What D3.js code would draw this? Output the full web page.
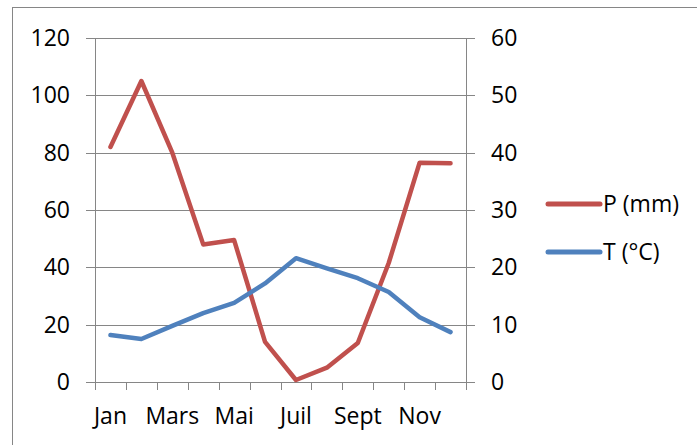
<!DOCTYPE html>
<html>
<head>
<meta charset="utf-8">
<script src="https://cdn.jsdelivr.net/npm/d3@7"></script>
<style>
  body { margin: 0; background: #fff; }
  svg text { font-family: "Open Sans", sans-serif; font-size: 23px; fill: #000; }
</style>
</head>
<body>
<svg id="chart" width="697" height="445"></svg>
<script>
// Monthly precipitation (left axis) and temperature (right axis)
const months = ['Jan', 'Fev', 'Mars', 'Avr', 'Mai', 'Juin', 'Juil', 'Aout', 'Sept', 'Oct', 'Nov', 'Dec'];
const shownMonths = ['Jan', 'Mars', 'Mai', 'Juil', 'Sept', 'Nov'];
const precip = [82, 105, 80, 48, 49.5, 14, 0.7, 5, 13.6, 41.5, 76.5, 76.3];
const temp = [8.2, 7.5, 9.8, 12, 13.8, 17.2, 21.6, 19.8, 18.1, 15.7, 11.3, 8.7];
const leftTicks = [0, 20, 40, 60, 80, 100, 120];
const rightTicks = [0, 10, 20, 30, 40, 50, 60];
const seriesNames = ['P (mm)', 'T (°C)'];

const RED = '#C0504D', BLUE = '#4F81BD', GRID = '#868686';
const M = { left: 95, right: 466, top: 38, bottom: 382 };

const svg = d3.select('#chart');

// outer chart frame (runs off the right and bottom edges)
svg.append('rect')
  .attr('x', 12.5).attr('y', 7.5)
  .attr('width', 720).attr('height', 460)
  .attr('fill', 'none')
  .attr('stroke', GRID)
  .attr('stroke-width', 1);

const x = d3.scaleBand().domain(months).range([M.left, M.right]);
const yL = d3.scaleLinear().domain([0, 120]).range([M.bottom, M.top]);
const yR = d3.scaleLinear().domain([0, 60]).range([M.bottom, M.top]);

// Gridlines + tick stubs on both sides
svg.append('g')
  .selectAll('line')
  .data(leftTicks)
  .join('line')
  .attr('x1', M.left - 9).attr('x2', M.right + 9)
  .attr('y1', d => Math.round(yL(d)) + 0.5).attr('y2', d => Math.round(yL(d)) + 0.5)
  .attr('stroke', GRID)
  .attr('stroke-width', 1);

// Vertical axes
[M.left, M.right].forEach(px => {
  svg.append('line')
    .attr('x1', px + 0.5).attr('x2', px + 0.5)
    .attr('y1', M.top).attr('y2', M.bottom + 8)
    .attr('stroke', GRID);
});

// X ticks at category boundaries
const bounds = months.map(m => x(m)).concat([x(months[11]) + x.bandwidth()]);
svg.append('g')
  .selectAll('line')
  .data(bounds)
  .join('line')
  .attr('x1', d => Math.round(d) + 0.5).attr('x2', d => Math.round(d) + 0.5)
  .attr('y1', M.bottom).attr('y2', M.bottom + 8)
  .attr('stroke', GRID);

// Left axis labels
svg.append('g')
  .selectAll('text')
  .data(leftTicks)
  .join('text')
  .attr('x', 70)
  .attr('y', d => yL(d) + 8)
  .attr('text-anchor', 'end')
  .text(d => d);

// Right axis labels
svg.append('g')
  .selectAll('text')
  .data(rightTicks)
  .join('text')
  .attr('x', 491)
  .attr('y', d => yR(d) + 8)
  .attr('text-anchor', 'start')
  .text(d => d);

// Month labels (every other one)
svg.append('g')
  .selectAll('text')
  .data(shownMonths)
  .join('text')
  .attr('x', d => x(d) + x.bandwidth() / 2)
  .attr('y', 424)
  .attr('text-anchor', 'middle')
  .text(d => d);

const lineP = d3.line()
  .x((_, i) => x(months[i]) + x.bandwidth() / 2)
  .y(d => yL(d));
const lineT = d3.line()
  .x((_, i) => x(months[i]) + x.bandwidth() / 2)
  .y(d => yR(d));

svg.append('path')
  .datum(precip)
  .attr('d', lineP)
  .attr('fill', 'none')
  .attr('stroke', RED)
  .attr('stroke-width', 4.5)
  .attr('stroke-linejoin', 'round')
  .attr('stroke-linecap', 'round');

svg.append('path')
  .datum(temp)
  .attr('d', lineT)
  .attr('fill', 'none')
  .attr('stroke', BLUE)
  .attr('stroke-width', 4.5)
  .attr('stroke-linejoin', 'round')
  .attr('stroke-linecap', 'round');

// Legend
const legend = svg.append('g')
  .selectAll('g')
  .data(seriesNames)
  .join('g')
  .attr('transform', (_, i) => `translate(0, ${204 + i * 48})`);

legend.append('line')
  .attr('x1', 548).attr('x2', 600)
  .attr('y1', 0).attr('y2', 0)
  .attr('stroke', (_, i) => i === 0 ? RED : BLUE)
  .attr('stroke-width', 5)
  .attr('stroke-linecap', 'round');

legend.append('text')
  .attr('x', 603)
  .attr('y', 8)
  .text(d => d);
</script>
</body>
</html>
